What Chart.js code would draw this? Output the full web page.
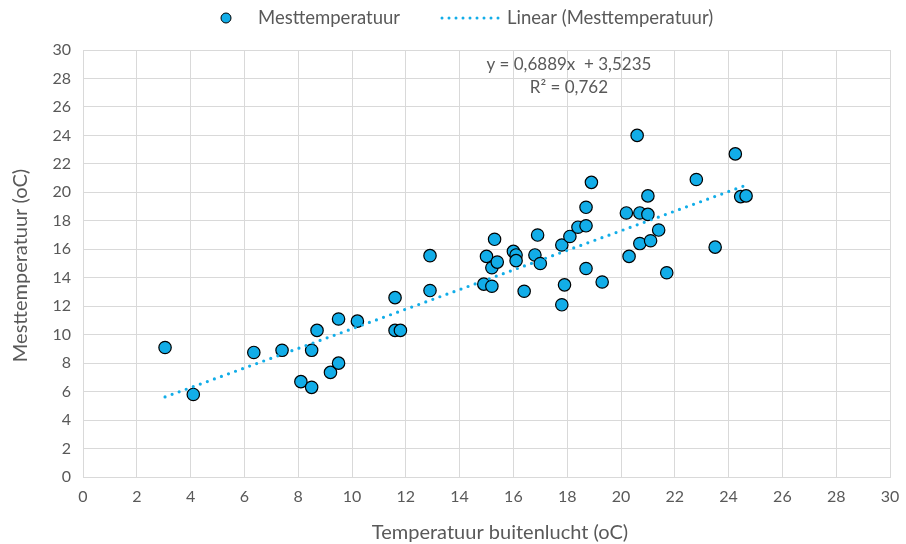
<!DOCTYPE html>
<html>
<head>
<meta charset="utf-8">
<script src="https://cdn.jsdelivr.net/npm/chart.js@4.4.1/dist/chart.umd.min.js"></script>
<style>
  html, body { margin: 0; padding: 0; background: #fff; }
  #wrap { width: 906px; height: 544px; }
</style>
</head>
<body>
<div id="wrap"><canvas id="scatterChart" width="906" height="544"></canvas></div>
<script>
// buitentemperatuur (x) en gemeten temperatuur (y)
const outsideTemp = [3.05, 4.1, 6.35, 7.4, 8.5, 8.7, 8.1, 8.5, 9.2, 9.5, 9.5, 10.2, 11.6, 11.6, 11.8,
  12.9, 12.9, 14.9, 15.2, 15.0, 15.2, 15.4, 15.3, 16.0, 16.1, 16.1, 16.4, 16.9, 16.8, 17.0,
  17.8, 17.8, 17.9, 18.1, 18.4, 18.7, 18.7, 19.3, 20.6, 18.9, 18.7, 20.2, 20.7, 21.0, 21.0,
  21.4, 20.7, 21.1, 20.3, 21.7, 22.8, 23.5, 24.25, 24.45, 24.65];
const measuredTemp = [9.1, 5.8, 8.75, 8.9, 8.9, 10.3, 6.7, 6.3, 7.35, 8.0, 11.1, 10.95, 12.6, 10.3, 10.3,
  15.55, 13.1, 13.55, 13.4, 15.5, 14.7, 15.1, 16.7, 15.85, 15.6, 15.2, 13.05, 17.0, 15.6, 15.0,
  16.3, 12.1, 13.5, 16.9, 17.55, 17.65, 14.65, 13.7, 24.0, 20.7, 18.95, 18.55, 18.55, 18.45, 19.75,
  17.35, 16.4, 16.6, 15.5, 14.35, 20.9, 16.15, 22.7, 19.7, 19.75];

// lineaire trendlijn
const slope = 0.6889;
const intercept = 3.5235;
const rSquared = 0.762;

const axisTicks = [0, 2, 4, 6, 8, 10, 12, 14, 16, 18, 20, 22, 24, 26, 28, 30];

const points = outsideTemp.map((x, i) => ({ x: x, y: measuredTemp[i] }));
const xMin = Math.min(...outsideTemp);
const xMax = Math.max(...outsideTemp);
const trend = [xMin, xMax].map(x => ({ x: x, y: slope * x + intercept }));

const fmt = (v, d) => v.toFixed(d).replace('.', ',');

const FONT = 'Lato, "Open Sans", sans-serif';
const TEXT = '#595959';
const BLUE = '#12ADE8';

const extras = {
  id: 'extras',
  afterDraw(chart) {
    const ctx = chart.ctx;
    const area = chart.chartArea;
    ctx.save();
    ctx.fillStyle = TEXT;
    ctx.font = '17px ' + FONT;
    ctx.textBaseline = 'middle';
    ctx.textAlign = 'center';
    const cx = chart.scales.x.getPixelForValue(18.1);
    ctx.fillText('y = ' + fmt(slope, 4) + 'x  + ' + fmt(intercept, 4), cx - 1, area.top + 15);
    ctx.fillText('R\u00B2 = ' + fmt(rSquared, 3), cx - 1, area.top + 38);

    // astitels
    ctx.font = '20px ' + FONT;
    ctx.fillText('Temperatuur buitenlucht (oC)', 500, 533);
    ctx.save();
    ctx.translate(21, (area.top + area.bottom) / 2 + 2);
    ctx.rotate(-Math.PI / 2);
    ctx.fillText('Mesttemperatuur (oC)', 0, 0);
    ctx.restore();

    // legenda
    const ly = 18;
    ctx.beginPath();
    ctx.arc(226, ly, 5, 0, Math.PI * 2);
    ctx.fillStyle = BLUE;
    ctx.fill();
    ctx.lineWidth = 1;
    ctx.strokeStyle = '#000';
    ctx.stroke();
    ctx.fillStyle = TEXT;
    ctx.textAlign = 'left';
    ctx.font = '18.5px ' + FONT;
    ctx.fillText('Mesttemperatuur', 258, ly);
    ctx.beginPath();
    ctx.setLineDash([0, 7]);
    ctx.lineCap = 'round';
    ctx.lineWidth = 3;
    ctx.strokeStyle = BLUE;
    ctx.moveTo(442, ly);
    ctx.lineTo(500, ly);
    ctx.stroke();
    ctx.setLineDash([]);
    ctx.fillText('Linear (Mesttemperatuur)', 507, ly);
    ctx.restore();
  }
};

new Chart(document.getElementById('scatterChart'), {
  type: 'scatter',
  data: {
    datasets: [
      {
        label: 'Linear (Mesttemperatuur)',
        data: trend,
        type: 'line',
        showLine: true,
        pointRadius: 0,
        borderColor: BLUE,
        borderWidth: 3.2,
        borderDash: [0, 7.5],
        borderCapStyle: 'round',
        fill: false,
        order: 0
      },
      {
        label: 'Mesttemperatuur',
        data: points,
        pointRadius: 6.2,
        pointHoverRadius: 6.2,
        backgroundColor: BLUE,
        borderColor: '#000',
        borderWidth: 1.2,
        order: 1
      }
    ]
  },
  options: {
    responsive: false,
    animation: false,
    layout: { padding: { top: 50, right: 16, left: 0, bottom: 0 } },
    plugins: {
      legend: { display: false },
      tooltip: { enabled: false }
    },
    scales: {
      x: {
        type: 'linear',
        min: 0,
        max: 30,
        afterBuildTicks: s => { s.ticks = axisTicks.map(v => ({ value: v })); },
        afterFit: s => { s.height = 67; s.paddingLeft = 0; s.paddingRight = 0; },
        grid: { color: '#d9d9d9', drawTicks: false },
        border: { color: '#d9d9d9' },
        ticks: { color: TEXT, font: { family: FONT, size: 16 }, padding: 10 }
      },
      y: {
        type: 'linear',
        min: 0,
        max: 30,
        afterBuildTicks: s => { s.ticks = axisTicks.map(v => ({ value: v })); },
        afterFit: s => { s.width = 83; s.paddingTop = 0; s.paddingBottom = 0; },
        grid: { color: '#d9d9d9', drawTicks: false },
        border: { color: '#d9d9d9' },
        ticks: { color: TEXT, font: { family: FONT, size: 16 }, padding: 12 }
      }
    }
  },
  plugins: [extras]
});
</script>
</body>
</html>
